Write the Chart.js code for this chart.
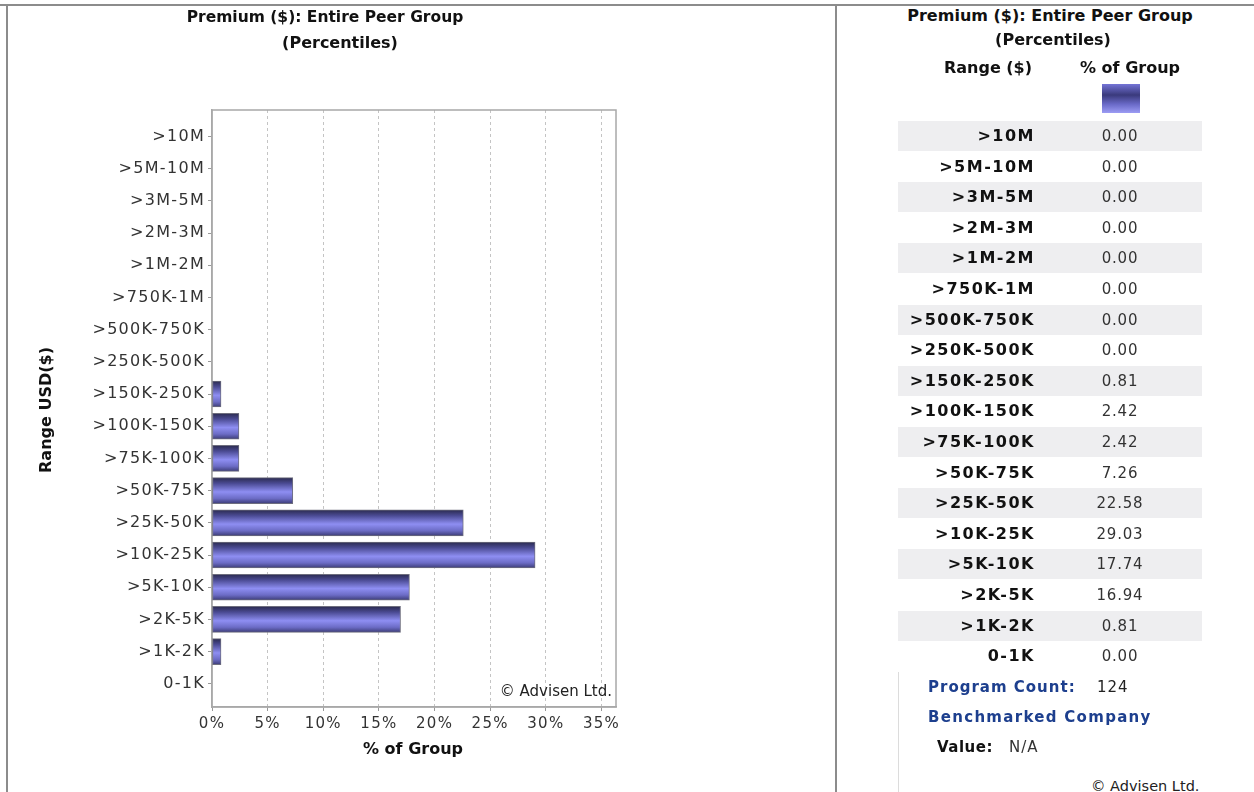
<!DOCTYPE html>
<html>
<head>
<meta charset="utf-8">
<script src="https://cdn.jsdelivr.net/npm/chart.js@4.4.0/dist/chart.umd.min.js"></script>
<style>
    html, body { margin: 0; padding: 0; background: #fff; }
    body { width: 1254px; height: 792px; position: relative; overflow: hidden; font-family: "DejaVu Sans", sans-serif; }
    .line { position: absolute; background: #8c8c8c; }
    .txt { position: absolute; white-space: nowrap; line-height: 20px; height: 20px; }
    .b { font-weight: bold; }
    #chart-box { position: absolute; left: 0; top: 0; width: 835px; height: 792px; }
    .row { position: absolute; left: 898px; width: 304px; height: 30px; }
    .row.alt { background: #eeeef0; }
    .swatch { position: absolute; left: 1102px; top: 84px; width: 38px; height: 29px;
        background: linear-gradient(#7474d6, #3a3a7c 38%, #6a6ac8 70%, #9c9cf4); }
</style>
</head>
<body>
<div class="line" style="left:0; top:4px; width:1254px; height:2px;"></div>
<div class="line" style="left:6px; top:4px; width:2px; height:788px;"></div>
<div class="line" style="left:835px; top:4px; width:2px; height:788px;"></div>
<div class="line" style="left:898px; top:672px; width:1px; height:120px; background:#dcdcdc;"></div>

<div id="chart-box"><canvas id="premiumChart"></canvas></div>
<div id="labels"></div>

<script>
// Premium bands, highest first
const rangeLabels = [">10M", ">5M-10M", ">3M-5M", ">2M-3M", ">1M-2M", ">750K-1M",
    ">500K-750K", ">250K-500K", ">150K-250K", ">100K-150K", ">75K-100K", ">50K-75K",
    ">25K-50K", ">10K-25K", ">5K-10K", ">2K-5K", ">1K-2K", "0-1K"];
// % of group per band
const pctValues = [0.00, 0.00, 0.00, 0.00, 0.00, 0.00,
    0.00, 0.00, 0.81, 2.42, 2.42, 7.26,
    22.58, 29.03, 17.74, 16.94, 0.81, 0.00];
const xTicks = [0, 5, 10, 15, 20, 25, 30, 35];
const programCount = 124;
const benchmarkValue = "N/A";

const labelsEl = document.getElementById("labels");

function addText(text, opts) {
    const el = document.createElement("div");
    el.className = "txt" + (opts.bold ? " b" : "");
    el.textContent = text;
    el.style.fontSize = (opts.size || 15) + "px";
    el.style.color = opts.color || "#111";
    el.style.letterSpacing = (opts.ls ?? 1) + "px";
    el.style.top = (opts.y - 10) + "px";
    if (opts.center !== undefined) {
        el.style.left = (opts.center - 200) + "px";
        el.style.width = "400px";
        el.style.textAlign = "center";
    } else if (opts.right !== undefined) {
        el.style.left = (opts.right - 300) + "px";
        el.style.width = "300px";
        el.style.textAlign = "right";
    } else {
        el.style.left = opts.left + "px";
    }
    if (opts.rotate) el.style.transform = "rotate(-90deg)";
    labelsEl.appendChild(el);
    return el;
}

// chart titles
addText("Premium ($): Entire Peer Group", { center: 325, y: 17, bold: true, size: 15.5, ls: 0 });
addText("(Percentiles)", { center: 340, y: 43, bold: true, size: 16, ls: 0 });
addText("% of Group", { center: 413, y: 749, bold: true, size: 16, ls: 0 });
addText("Range USD($)", { center: 46, y: 410, bold: true, size: 16, ls: 0, rotate: true });
addText("© Advisen Ltd.", { right: 612, y: 691, size: 15, color: "#222", ls: 0 });

// table on the right
addText("Premium ($): Entire Peer Group", { center: 1050, y: 16, bold: true, size: 16, ls: 0 });
addText("(Percentiles)", { center: 1053, y: 40, bold: true, size: 16, ls: 0 });
addText("Range ($)", { center: 988, y: 68, bold: true, size: 16, ls: 0 });
addText("% of Group", { center: 1130, y: 68, bold: true, size: 16, ls: 0 });
const sw = document.createElement("div");
sw.className = "swatch";
labelsEl.appendChild(sw);

rangeLabels.forEach((label, i) => {
    const top = 121 + i * 30.6;
    const row = document.createElement("div");
    row.className = "row" + (i % 2 === 0 ? " alt" : "");
    row.style.top = top + "px";
    labelsEl.appendChild(row);
    addText(label, { right: 1035, y: top + 15, bold: true, size: 16, ls: 1.5 });
    addText(pctValues[i].toFixed(2), { center: 1120, y: top + 15, size: 15, color: "#333", ls: 0.8 });
});

addText("Program Count:", { left: 928, y: 687, bold: true, size: 15, color: "#1d3f8e", ls: 1 });
addText(String(programCount), { left: 1097, y: 687, size: 15, color: "#222", ls: 1 });
addText("Benchmarked Company", { left: 928, y: 717, bold: true, size: 15, color: "#1d3f8e", ls: 1.3 });
addText("Value:", { left: 937, y: 747, bold: true, size: 15, ls: 0.5 });
addText(benchmarkValue, { left: 1009, y: 747, size: 15, color: "#333", ls: 1 });
addText("© Advisen Ltd.", { left: 1091, y: 786, size: 14.5, color: "#222", ls: 0 });

// bar fill: dark edges, light band in the middle
function barFill(c) {
    const chart = c.chart;
    if (!c.raw || c.raw.x <= 0) return "rgba(0,0,0,0)";
    if (!chart.chartArea || !c.parsed) return "#7a7ad8";
    const y = chart.scales.y.getPixelForValue(c.parsed.y);
    const g = chart.ctx.createLinearGradient(0, y - 13, 0, y + 13);
    g.addColorStop(0, "#2a2a4e");
    g.addColorStop(0.22, "#4a4a92");
    g.addColorStop(0.55, "#8e8ef2");
    g.addColorStop(0.8, "#6c6cc6");
    g.addColorStop(1, "#3c3c76");
    return g;
}

// canvas text spacing + plot frame
const framePlugin = {
    id: "frame",
    beforeDraw(chart) {
        chart.ctx.letterSpacing = "1.3px";
    },
    beforeDatasetsDraw(chart) {
        const { ctx, chartArea: a } = chart;
        ctx.save();
        ctx.strokeStyle = "#a8a8a8";
        ctx.lineWidth = 1.5;
        ctx.strokeRect(a.left, a.top, a.right - a.left, a.bottom - a.top);
        ctx.restore();
    }
};

new Chart(document.getElementById("premiumChart"), {
    type: "bar",
    data: {
        datasets: [{
            data: pctValues.map((v, i) => ({ x: v, y: i })),
            backgroundColor: barFill,
            borderColor: "#6e6e7e",
            borderWidth: c => (c.raw && c.raw.x > 0 ? 1 : 0),
            borderSkipped: false,
            barThickness: 26,
        }]
    },
    plugins: [framePlugin],
    options: {
        indexAxis: "y",
        responsive: true,
        maintainAspectRatio: false,
        animation: false,
        layout: { padding: { left: 33, right: 219, top: 110, bottom: 25 } },
        plugins: { legend: { display: false }, tooltip: { enabled: false } },
        scales: {
            x: {
                type: "linear",
                min: 0,
                max: 36.3,
                afterFit: s => { s.height = 60; },
                afterBuildTicks: s => { s.ticks = xTicks.map(v => ({ value: v })); },
                ticks: {
                    callback: v => v + "%",
                    font: { family: "DejaVu Sans", size: 15 },
                    color: "#333",
                    padding: 4,
                    maxRotation: 0,
                },
                grid: {
                    color: c => (c.tick && c.tick.value === 0 ? "rgba(0,0,0,0)" : "#c4c4c4"),
                    tickColor: "#999",
                    tickLength: 4,
                },
                border: { display: true, color: "#a8a8a8", width: 1.5, dash: [3, 3] },
            },
            y: {
                type: "linear",
                reverse: true,
                offset: false,
                min: -0.82,
                max: 17.72,
                afterFit: s => { s.width = 179; },
                afterBuildTicks: s => { s.ticks = rangeLabels.map((_, i) => ({ value: i })); },
                ticks: {
                    callback: v => rangeLabels[v],
                    font: { family: "DejaVu Sans", size: 16 },
                    color: "#333",
                    padding: 3,
                },
                grid: { drawOnChartArea: false, offset: false, tickColor: "#999", tickLength: 4 },
                border: { display: true, color: "#a8a8a8", width: 1.5 },
            },
        },
    },
});
</script>
</body>
</html>
